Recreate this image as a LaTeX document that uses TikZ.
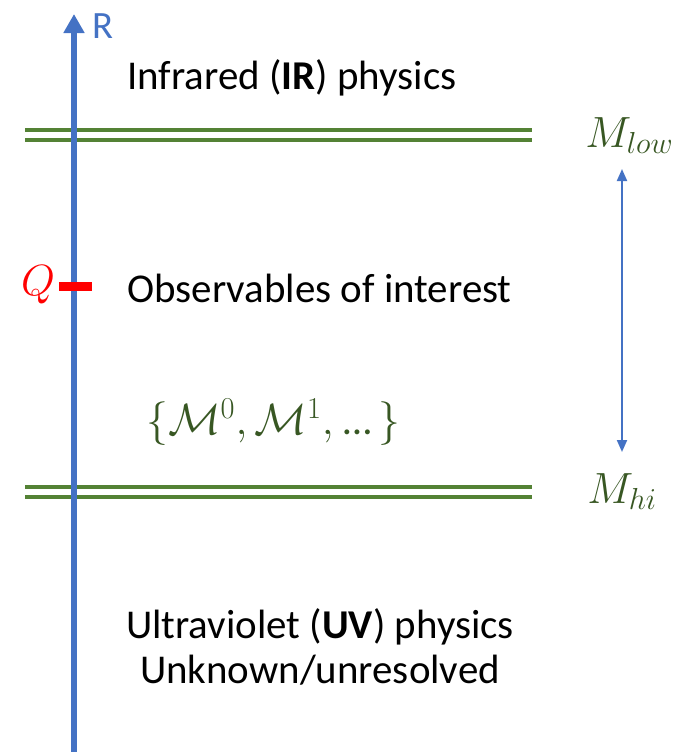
\documentclass[tikz,border=0pt]{standalone}
\usepackage{fontspec}
\setmainfont{Carlito}
\usepackage{xcolor}
\usetikzlibrary{arrows.meta}
\definecolor{axisblue}{HTML}{4472C4}
\definecolor{scalegreen}{HTML}{548235}
\definecolor{labelgreen}{HTML}{385723}

\begin{document}
\begin{tikzpicture}[
  x=0.02cm, y=-0.02cm,
  every node/.style={inner sep=0pt, font=\fontsize{23.3}{25.6}\selectfont},
  cutline/.style={draw=scalegreen, line width=0.08cm},
  scalelabel/.style={text=labelgreen, anchor=base west, font=\fontsize{26}{30}\selectfont},
  axisline/.style={draw=axisblue, line width=0.12cm, -{Triangle[length=0.38cm, width=0.4cm]}}
]
\useasboundingbox (0,0) rectangle (697,752);

% cut-off scales
\coordinate (lowL1) at (25,130);  \coordinate (lowR1) at (532,130);
\coordinate (lowL2) at (25,140);  \coordinate (lowR2) at (532,140);
\coordinate (hiL1)  at (25,487);  \coordinate (hiR1)  at (532,487);
\coordinate (hiL2)  at (25,497);  \coordinate (hiR2)  at (532,497);
\draw[cutline] (lowL1) -- (lowR1);
\draw[cutline] (lowL2) -- (lowR2);
\draw[cutline] (hiL1) -- (hiR1);
\draw[cutline] (hiL2) -- (hiR2);

% R axis
\coordinate (axisbot) at (74,752);
\coordinate (axistop) at (74,14);
\draw[axisline] (axisbot) -- (axistop);
\node[text=axisblue, font=\fontsize{22}{26}\selectfont] (rlabel) at (103,26) {R};

% observable scale
\coordinate (qL) at (59,286);
\coordinate (qR) at (92,286);
\draw[red, line width=0.18cm] (qL) -- (qR);
\node[text=red, font=\fontsize{26}{30}\selectfont] (qlabel) at (38,285) {$Q$};

% regions
\node[anchor=west] (ir) at (127,78) {Infrared (\textbf{IR}) physics};
\node[anchor=west] (obs) at (127,288) {Observables of interest};
\node[text=labelgreen, anchor=west] (ops) at (146,422) {$\{\mathcal{M}^0, \mathcal{M}^1,$ …$\,\}$};
\node[align=center] (uv) at (320,647) {Ultraviolet (\textbf{UV}) physics\\Unknown/unresolved};

% masses
\node[scalelabel] (mlow) at (585,147) {$M_{low}$};
\node[scalelabel] (mhi) at (587,503) {$M_{hi}$};
\coordinate (rangetop) at (622,169);
\coordinate (rangebot) at (622,452);
\draw[axisblue, line width=0.04cm, {Triangle[length=0.24cm, width=0.2cm]}-{Triangle[length=0.24cm, width=0.2cm]}] (rangetop) -- (rangebot);
\end{tikzpicture}
\end{document}
